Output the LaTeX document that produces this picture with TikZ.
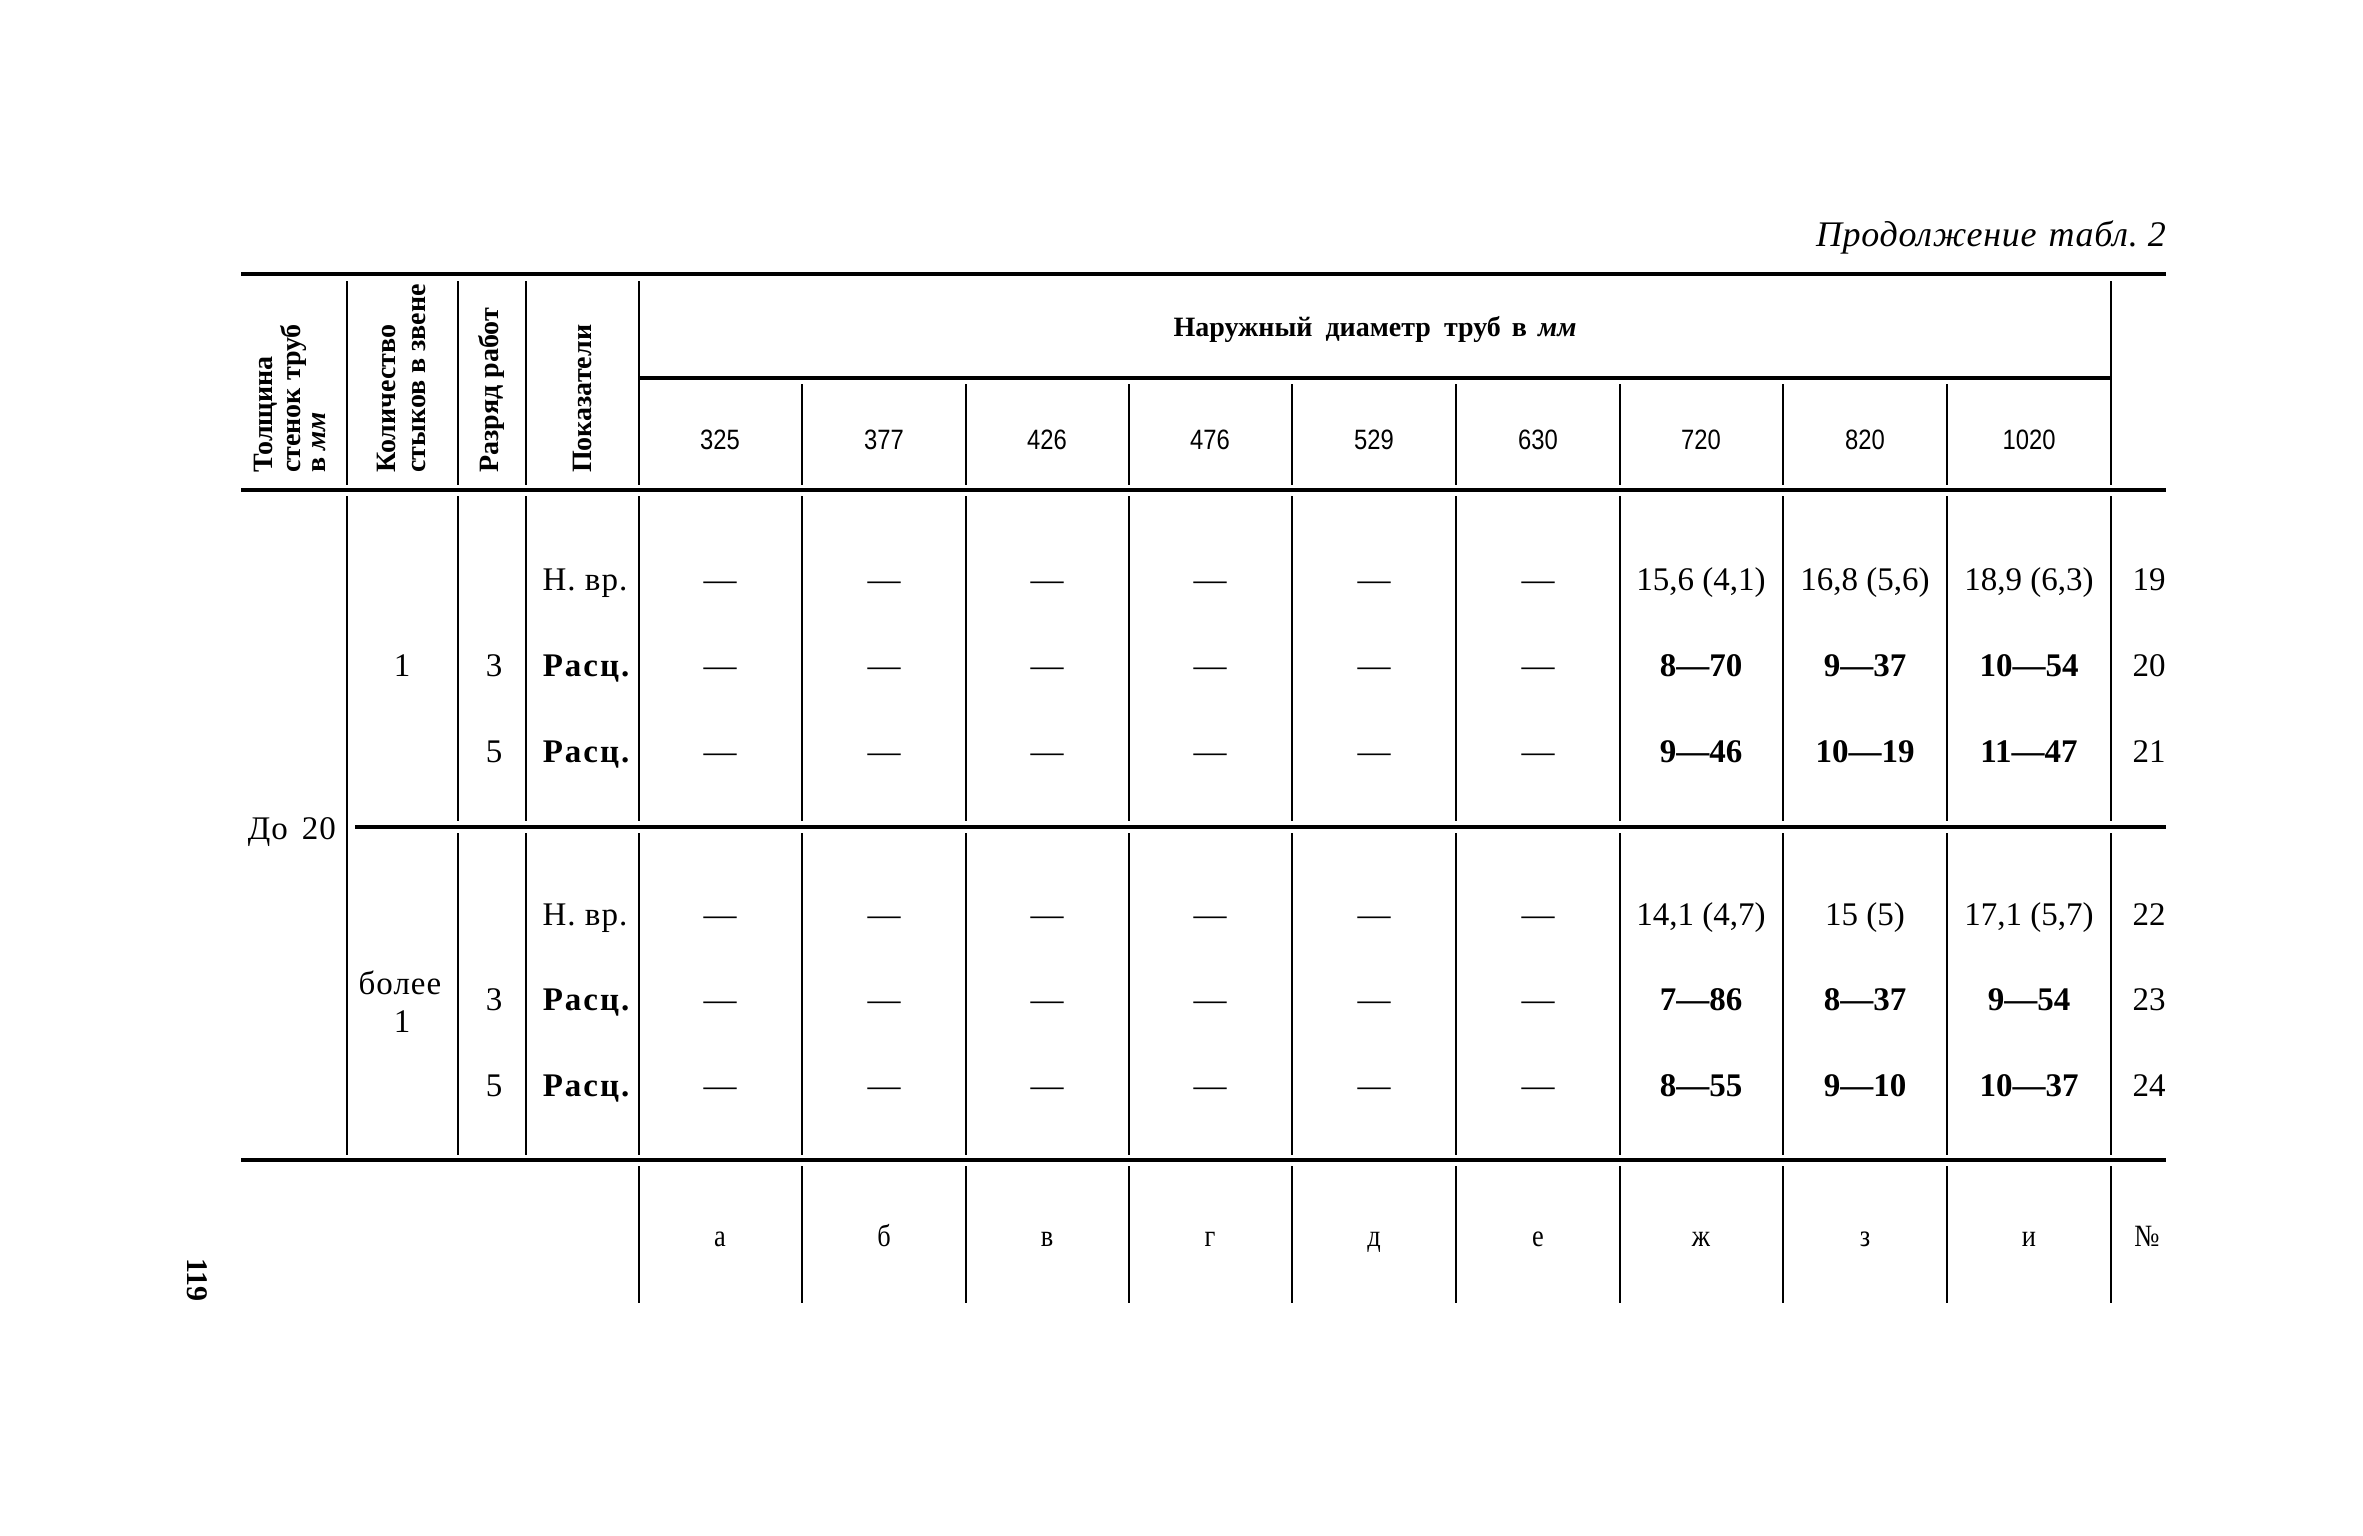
\documentclass[tikz,border=0pt]{standalone}
\usepackage{fontspec}
\setmainfont{Liberation Serif}
\newfontfamily\condsans[FakeStretch=0.85]{Liberation Sans}
\newfontfamily\condserif[FakeStretch=0.85]{Liberation Serif}
\begin{document}
\begin{tikzpicture}[x=1pt,y=-1pt,
  tabrule/.style={line width=3.4pt},
  vline/.style={line width=2.6pt},
  cell/.style={font=\fontsize{33}{38}\selectfont, anchor=base, inner sep=0pt},
  bcell/.style={font=\fontsize{33}{38}\selectfont\bfseries, anchor=base, inner sep=0pt},
  hdr/.style={font=\fontsize{28}{32}\selectfont\bfseries, rotate=90, anchor=base west, inner sep=0pt},
  dia/.style={font=\fontsize{28}{32}\selectfont\condsans, anchor=base, inner sep=0pt},
  letr/.style={font=\fontsize{31}{34}\selectfont\condserif, anchor=base, inner sep=0pt}]
\useasboundingbox (0,0) rectangle (2363,1536);
\fill[white] (0,0) rectangle (2363,1536);

% horizontal rules
\draw[tabrule] (241,274) -- (2166,274);
\draw[tabrule] (639,378) -- (2111,378);
\draw[tabrule] (241,490) -- (2166,490);
\draw[tabrule] (355,827) -- (2166,827);
\draw[tabrule] (241,1160) -- (2166,1160);

% header verticals
\foreach \x in {347,458,526,639,2111} \draw[vline] (\x,281) -- (\x,485);
\foreach \x in {802,966,1129,1292,1456,1620,1783,1947} \draw[vline] (\x,384) -- (\x,485);
% body verticals
\draw[vline] (347,496) -- (347,1155);
\foreach \x in {458,526,639,802,966,1129,1292,1456,1620,1783,1947,2111} {
  \draw[vline] (\x,496) -- (\x,821);
  \draw[vline] (\x,833) -- (\x,1155);
}
% letter-row verticals
\foreach \x in {639,802,966,1129,1292,1456,1620,1783,1947,2111} \draw[vline] (\x,1166) -- (\x,1303);

% title
\node[font=\fontsize{36}{40}\selectfont\itshape, anchor=base east, inner sep=0pt] (title) at (2166,246) {\addfontfeature{LetterSpace=2}Продолжение\hspace{12pt}табл.\hspace{10pt}2};

% rotated headers
\node[hdr] (h1a) at (272,473) {Толщина};
\node[hdr] (h1b) at (300,473) {стенок труб};
\node[hdr] (h1c) at (325,473) {в \textit{мм}};
\node[hdr] (h2a) at (395,473) {Количество};
\node[hdr] (h2b) at (425,473) {стыков в звене};
\node[hdr] (h3) at (498,473) {Разряд работ};
\node[hdr] (h4) at (591,473) {Показатели};

\node[font=\fontsize{28}{32}\selectfont\bfseries, anchor=base, inner sep=0pt] (nd) at (1375,336) {Наружный\hspace{6pt} диаметр\hspace{6pt} труб\hspace{4pt} в\hspace{4pt} \textit{мм}};

% diameters
\foreach \c/\t [count=\i] in {720/325,884/377,1047/426,1210/476,1374/529,1538/630,1701/720,1865/820,2029/1020}
  \node[dia] (d\i) at (\c,449) {\t};

% left columns
\node[cell, anchor=base east] (thick) at (336,839) {\addfontfeature{LetterSpace=3}До\hspace{14pt}20};
\node[cell] (n1) at (402,676) {1};
\node[cell] (n2a) at (400,994) {\addfontfeature{LetterSpace=3}более};
\node[cell] (n2b) at (402,1032) {1};
\node[cell] (r1) at (494,676) {3};
\node[cell] (r2) at (494,762) {5};
\node[cell] (r3) at (494,1010) {3};
\node[cell] (r4) at (494,1096) {5};

\node[cell] (p1) at (585,590) {\addfontfeature{LetterSpace=3}Н. вр.};
\node[bcell] (p2) at (586,676) {\addfontfeature{LetterSpace=6}Расц.};
\node[bcell] (p3) at (586,762) {\addfontfeature{LetterSpace=6}Расц.};
\node[cell] (p4) at (585,925) {\addfontfeature{LetterSpace=3}Н. вр.};
\node[bcell] (p5) at (586,1010) {\addfontfeature{LetterSpace=6}Расц.};
\node[bcell] (p6) at (586,1096) {\addfontfeature{LetterSpace=6}Расц.};

% dashes
\foreach \c [count=\i] in {720,884,1047,1210,1374,1538}
  \foreach \y [count=\j] in {590,676,762,925,1010,1096}
    \node[cell] (m\i-\j) at (\c,\y) {—};

% values
\node[cell] (v11) at (1701,590) {15,6 (4,1)};
\node[cell] (v12) at (1865,590) {16,8 (5,6)};
\node[cell] (v13) at (2029,590) {18,9 (6,3)};
\node[bcell] (v21) at (1701,676) {8—70};
\node[bcell] (v22) at (1865,676) {9—37};
\node[bcell] (v23) at (2029,676) {10—54};
\node[bcell] (v31) at (1701,762) {9—46};
\node[bcell] (v32) at (1865,762) {10—19};
\node[bcell] (v33) at (2029,762) {11—47};
\node[cell] (v41) at (1701,925) {14,1 (4,7)};
\node[cell] (v42) at (1865,925) {15 (5)};
\node[cell] (v43) at (2029,925) {17,1 (5,7)};
\node[bcell] (v51) at (1701,1010) {7—86};
\node[bcell] (v52) at (1865,1010) {8—37};
\node[bcell] (v53) at (2029,1010) {9—54};
\node[bcell] (v61) at (1701,1096) {8—55};
\node[bcell] (v62) at (1865,1096) {9—10};
\node[bcell] (v63) at (2029,1096) {10—37};

% row numbers
\foreach \y/\t in {590/19,676/20,762/21,925/22,1010/23,1096/24}
  \node[cell] (no\t) at (2149,\y) {\t};

% letters row
\foreach \c/\t [count=\i] in {720/а,884/б,1047/в,1210/г,1374/д,1538/е,1701/ж,1865/з,2029/и,2147/№}
  \node[letr] (l\i) at (\c,1246) {\t};

% page number
\node[font=\fontsize{30}{34}\selectfont\bfseries, rotate=-90, inner sep=0pt] (pg) at (197,1280) {119};
\end{tikzpicture}
\end{document}
